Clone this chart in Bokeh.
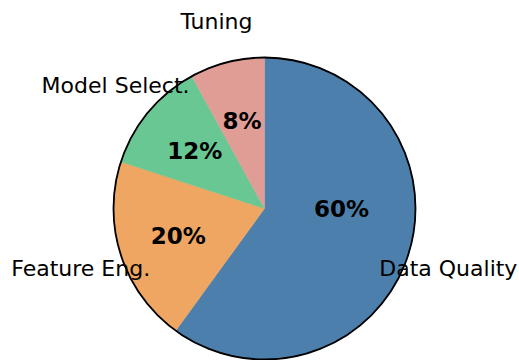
import numpy as np
from bokeh.plotting import figure
from bokeh.models import Range1d, ColumnDataSource
from bokeh.core.properties import value
from bokeh.embed import file_html
from bokeh.resources import INLINE

categories = ["Data Quality", "Feature Eng.", "Model Select.", "Tuning"]
shares = [60, 20, 12, 8]
colors = ["#4c7fab", "#eea662", "#68c793", "#e09d95"]

R = 151.0
FONT = "DejaVu Sans"

frac = np.array(shares, dtype=float) / sum(shares)
sweep = frac * 2 * np.pi
ends = np.pi / 2 - np.concatenate([[0], np.cumsum(sweep)[:-1]])
starts = ends - sweep
mids = (starts + ends) / 2

# label placement (style)
label_dist = 1.28
pct_dist = np.array([0.51, 0.6, 0.6, 0.6])
pct_angle_shift = np.array([np.radians(18), 0, 0, 0])

p = figure(width=519, height=360, output_backend="svg", toolbar_location=None,
           x_range=Range1d(-264, 255), y_range=Range1d(-152, 208),
           min_border=0, outline_line_color=None)
p.axis.visible = False
p.grid.visible = False
p.background_fill_color = "white"

src = ColumnDataSource(dict(start=starts, end=ends, color=colors))
p.wedge(x=0, y=0, radius=R, start_angle="start", end_angle="end",
        direction="anticlock", fill_color="color", line_color="color",
        line_width=0.5, source=src)
p.circle(x=[0], y=[0], radius=R, fill_color=None, line_color="black",
         line_width=1.8)

pa = mids + pct_angle_shift
p.text(x=pct_dist * R * np.cos(pa), y=pct_dist * R * np.sin(pa),
       text=[f"{s}%" for s in shares], text_align="center",
       text_baseline="middle", text_font=value(FONT), text_font_style="bold",
       text_font_size="23px", text_color="black")

p.text(x=label_dist * R * np.cos(mids), y=label_dist * R * np.sin(mids),
       text=categories, text_align="center", text_baseline="middle",
       text_font=value(FONT), text_font_size="22px", text_color="black")

open("out.html", "w").write(file_html(p, INLINE))
